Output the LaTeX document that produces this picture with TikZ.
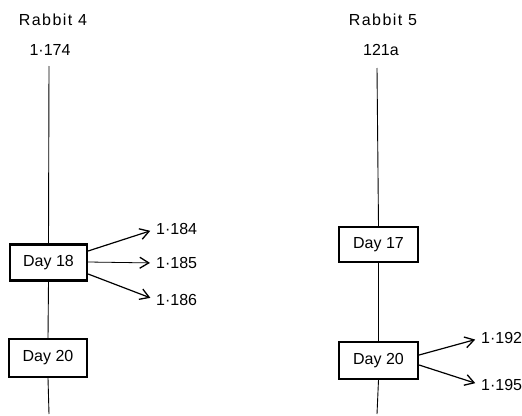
\documentclass[tikz,border=0pt]{standalone}
\usepackage{fontspec}
\setmainfont{Liberation Sans}
\newfontfamily\widefont{Liberation Sans}[LetterSpace=9]
\usetikzlibrary{arrows.meta}
\tikzset{
  lbl/.style={font=\fontsize{16}{18}\selectfont, inner sep=0pt},
  title/.style={font=\widefont\fontsize{16}{18}\selectfont, inner sep=0pt},
  daybox/.style={draw, line width=2.2pt, minimum width=77pt, minimum height=36pt, inner sep=0pt, font=\fontsize{16}{18}\selectfont},
  stem/.style={line width=0.9pt},
  arr/.style={line width=1.2pt, shorten >=6pt, -{Straight Barb[length=9pt,width=11pt,line width=1.3pt]}},
  outlbl/.style={lbl, anchor=west},
}
\begin{document}
\begin{tikzpicture}[x=1pt,y=-1pt]
\useasboundingbox (0,0) rectangle (522,415);
% left column
\node[title] (r4) at (53,20) {Rabbit 4};
\node[lbl] (c174) at (50,50) {1·174};
\coordinate (l1top) at (49,66);
\coordinate (l1bot) at (49,414);
\node[daybox] (d18) at (48.5,262.5) {Day 18};
\node[daybox, minimum height=38pt, minimum width=78pt] (d20a) at (48,358) {Day 20};
\draw[stem] (l1top) -- (d18.north);
\draw[stem] (d18.south) -- (d20a.north);
\draw[stem] (d20a.south) -- (l1bot);
\node[outlbl] (c184) at (156,229) {1·184};
\node[outlbl] (c185) at (156,263) {1·185};
\node[outlbl] (c186) at (156,300) {1·186};
\draw[arr] (d18.east |- 0,251) -- (c184.west);
\draw[arr, line width=0.8pt] (d18.east |- 0,262) -- (c185.west);
\draw[arr] (d18.east |- 0,274) -- (c186.west);
% right column
\node[title] (r5) at (383,20) {Rabbit 5};
\node[lbl] (c121) at (381,50) {121a};
\coordinate (l2top) at (377,68);
\coordinate (l2bot) at (377,414);
\node[daybox, minimum width=79pt, minimum height=35pt] (d17) at (378.5,244.5) {Day 17};
\node[daybox, minimum width=79pt, minimum height=37pt] (d20b) at (378.5,360.5) {Day 20};
\draw[stem] (l2top) -- (d17.north);
\draw[stem] (d17.south) -- (d20b.north);
\draw[stem] (d20b.south) -- (l2bot);
\node[outlbl] (c192) at (481,338) {1·192};
\node[outlbl] (c195) at (481,385) {1·195};
\draw[arr] (d20b.east |- 0,355) -- (c192.west);
\draw[arr] (d20b.east |- 0,365) -- (c195.west);
\end{tikzpicture}
\end{document}
